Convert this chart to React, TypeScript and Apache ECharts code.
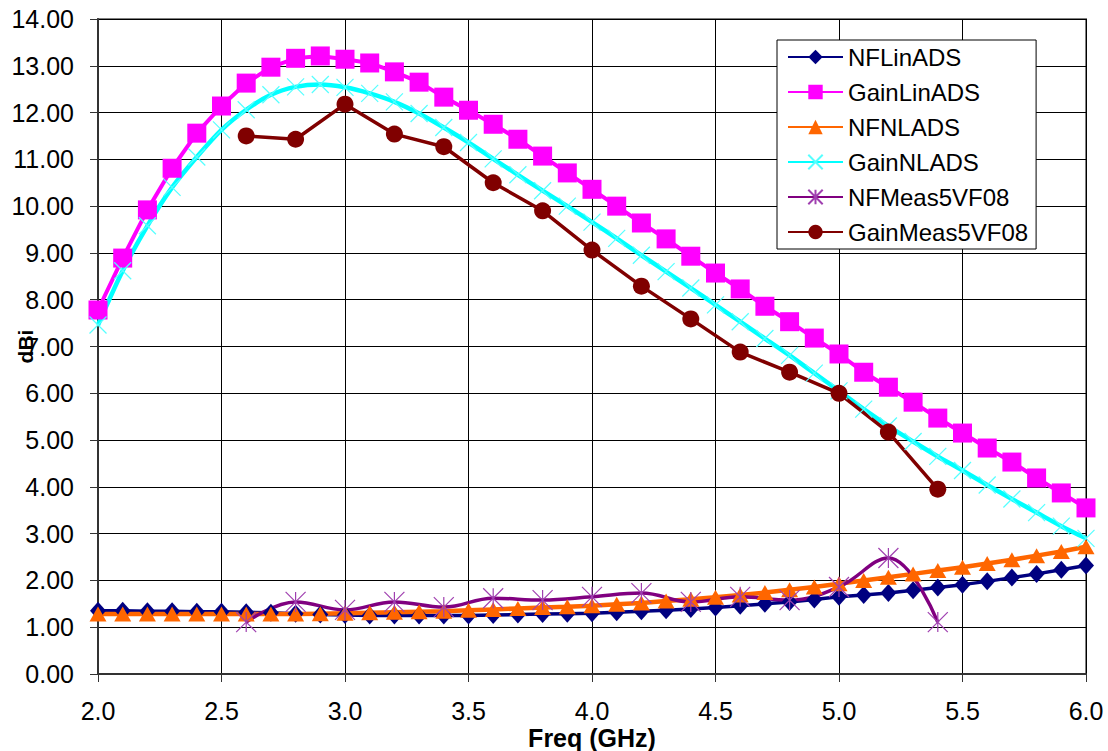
import React, { useEffect, useRef } from "react";
import * as echarts from "echarts";

const freqs = [2.0, 2.1, 2.2, 2.3, 2.4, 2.5, 2.6, 2.7, 2.8, 2.9, 3.0, 3.1, 3.2, 3.3, 3.4, 3.5, 3.6, 3.7, 3.8, 3.9, 4.0, 4.1, 4.2, 4.3, 4.4, 4.5, 4.6, 4.7, 4.8, 4.9, 5.0, 5.1, 5.2, 5.3, 5.4, 5.5, 5.6, 5.7, 5.8, 5.9, 6.0];
const measFreqs = [2.6, 2.8, 3.0, 3.2, 3.4, 3.6, 3.8, 4.0, 4.2, 4.4, 4.6, 4.8, 5.0, 5.2, 5.4];

const nfLinADS = [1.35, 1.35, 1.34, 1.34, 1.33, 1.33, 1.32, 1.31, 1.29, 1.27, 1.26, 1.25, 1.25, 1.25, 1.25, 1.25, 1.26, 1.27, 1.28, 1.29, 1.30, 1.32, 1.34, 1.36, 1.39, 1.42, 1.46, 1.50, 1.54, 1.59, 1.65, 1.69, 1.73, 1.79, 1.85, 1.91, 1.98, 2.06, 2.14, 2.23, 2.32];
const gainLinADS = [7.78, 8.89, 9.92, 10.81, 11.56, 12.14, 12.63, 12.97, 13.16, 13.21, 13.14, 13.06, 12.87, 12.65, 12.33, 12.05, 11.75, 11.43, 11.07, 10.71, 10.36, 10.0, 9.64, 9.30, 8.93, 8.57, 8.23, 7.86, 7.53, 7.18, 6.84, 6.45, 6.13, 5.81, 5.47, 5.15, 4.83, 4.53, 4.19, 3.87, 3.55];
const nfNLADS = [1.28, 1.28, 1.28, 1.28, 1.28, 1.28, 1.28, 1.28, 1.28, 1.29, 1.30, 1.31, 1.32, 1.33, 1.34, 1.36, 1.38, 1.40, 1.42, 1.44, 1.46, 1.49, 1.52, 1.56, 1.60, 1.64, 1.69, 1.74, 1.80, 1.86, 1.93, 2.00, 2.07, 2.14, 2.21, 2.28, 2.36, 2.44, 2.53, 2.62, 2.72];
const gainNLADS = [7.46, 8.62, 9.58, 10.40, 11.05, 11.63, 12.06, 12.38, 12.55, 12.60, 12.54, 12.41, 12.23, 11.98, 11.68, 11.36, 11.01, 10.67, 10.33, 10.00, 9.66, 9.31, 8.95, 8.60, 8.25, 7.89, 7.53, 7.17, 6.81, 6.43, 6.05, 5.66, 5.30, 4.97, 4.65, 4.35, 4.04, 3.74, 3.45, 3.16, 2.90];
const nfMeas5VF08 = [1.11, 1.54, 1.37, 1.54, 1.43, 1.62, 1.58, 1.65, 1.73, 1.54, 1.65, 1.58, 1.86, 2.48, 1.11];
const gainMeas5VF08 = [11.50, 11.43, 12.18, 11.54, 11.27, 10.50, 9.90, 9.06, 8.29, 7.59, 6.88, 6.45, 6.00, 5.17, 3.95];

const seriesNames = ["NFLinADS", "GainLinADS", "NFNLADS", "GainNLADS", "NFMeas5VF08", "GainMeas5VF08"];

const FONT = "'Liberation Sans', Arial, sans-serif";
const X_SYMBOL = "path://M0,0L10,10M10,0L0,10";
const STAR_SYMBOL = "path://M0,0L10,10M10,0L0,10M5,0L5,10";

const pair = (xs: number[], ys: number[]) => xs.map((x, i) => [x, ys[i]]);

export default function App() {
  const ref = useRef<HTMLDivElement>(null);

  useEffect(() => {
    if (!ref.current) return;
    const chart = echarts.init(ref.current, null, { renderer: "svg" });
    const option: any = {
      animation: false,
      backgroundColor: "#ffffff",
      textStyle: { fontFamily: FONT },
      grid: {
        left: 98,
        right: 22,
        top: 19,
        bottom: 77,
        containLabel: false,
        outerBoundsMode: "none",
        show: true,
        borderColor: "#808080",
        borderWidth: 2,
        backgroundColor: "transparent",
      },
      legend: {
        data: seriesNames,
        orient: "vertical",
        left: 777,
        top: 40,
        itemWidth: 55,
        itemHeight: 18,
        itemGap: 11,
        padding: [5, 8, 5, 10],
        borderColor: "#000",
        borderWidth: 1,
        backgroundColor: "#fff",
        textStyle: { fontSize: 24, color: "#000", fontFamily: FONT },
      },
      xAxis: {
        type: "value",
        min: 2,
        max: 6,
        interval: 0.5,
        name: "Freq (GHz)",
        nameLocation: "middle",
        nameGap: 51,
        nameMoveOverlap: false,
        nameTextStyle: { fontSize: 25, fontWeight: "bold", color: "#000", fontFamily: FONT },
        axisLine: { show: true, lineStyle: { color: "#333", width: 2 } },
        axisTick: { show: true, length: 8, inside: false, lineStyle: { color: "#333", width: 1 } },
        axisLabel: { formatter: (v: number) => v.toFixed(1), fontSize: 25, color: "#000", margin: 24, fontFamily: FONT },
        splitLine: { show: true, lineStyle: { color: "#000", width: 1 } },
      },
      yAxis: {
        type: "value",
        min: 0,
        max: 14,
        interval: 1,
        name: "dBi",
        nameLocation: "middle",
        nameRotate: 90,
        nameGap: 62,
        nameMoveOverlap: false,
        nameTextStyle: { fontSize: 21, fontWeight: "bold", color: "#000", fontFamily: FONT },
        axisLine: { show: true, lineStyle: { color: "#333", width: 2 } },
        axisTick: { show: true, length: 8, inside: false, lineStyle: { color: "#333", width: 1 } },
        axisLabel: { formatter: (v: number) => v.toFixed(2), fontSize: 25, color: "#000", margin: 24, fontFamily: FONT },
        splitLine: { show: true, lineStyle: { color: "#000", width: 1 } },
      },
      series: [
        {
          name: "NFLinADS",
          type: "line",
          data: pair(freqs, nfLinADS),
          symbol: "diamond",
          symbolSize: [16, 18],
          showAllSymbol: true,
          lineStyle: { color: "#000080", width: 3.5 },
          itemStyle: { color: "#000080" },
        },
        {
          name: "GainLinADS",
          type: "line",
          data: pair(freqs, gainLinADS),
          symbol: "rect",
          symbolSize: 19,
          showAllSymbol: true,
          lineStyle: { color: "#FF00FF", width: 4 },
          itemStyle: { color: "#FF00FF" },
        },
        {
          name: "NFNLADS",
          type: "line",
          data: pair(freqs, nfNLADS),
          symbol: "triangle",
          symbolSize: [17, 15],
          showAllSymbol: true,
          lineStyle: { color: "#FF6600", width: 4.5 },
          itemStyle: { color: "#FF6600" },
        },
        {
          name: "GainNLADS",
          type: "line",
          data: pair(freqs, gainNLADS),
          smooth: 0.3,
          symbol: X_SYMBOL,
          symbolSize: 17,
          showAllSymbol: true,
          lineStyle: { color: "#00FFFF", width: 4.5 },
          itemStyle: { color: "#00FFFF", borderColor: "#55FFFF", borderWidth: 1.2 },
        },
        {
          name: "NFMeas5VF08",
          type: "line",
          data: pair(measFreqs, nfMeas5VF08),
          smooth: 0.4,
          symbol: STAR_SYMBOL,
          symbolSize: 20,
          showAllSymbol: true,
          lineStyle: { color: "#800080", width: 3.5 },
          itemStyle: { color: "#800080", borderColor: "#A040B0", borderWidth: 1.2 },
        },
        {
          name: "GainMeas5VF08",
          type: "line",
          data: pair(measFreqs, gainMeas5VF08),
          symbol: "circle",
          symbolSize: 17,
          showAllSymbol: true,
          lineStyle: { color: "#800000", width: 3.5 },
          itemStyle: { color: "#800000" },
        },
      ],
    };
    chart.setOption(option);
    return () => chart.dispose();
  }, []);

  return (
    <div
      ref={ref}
      style={{ position: "absolute", left: 0, top: 0, width: 1108, height: 751, background: "#fff" }}
    />
  );
}
